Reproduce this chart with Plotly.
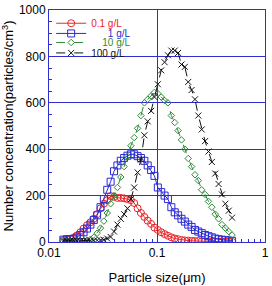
import plotly.graph_objects as go

# particle size channels (nm)
size_nm = [13.6, 14.6, 15.7, 16.9, 18.1, 19.5, 20.9, 22.5, 24.2, 26.0,
           27.9, 30.0, 32.2, 34.6, 37.2, 40.0, 43.0, 46.2, 49.6, 53.3,
           57.3, 61.5, 66.1, 71.0, 76.4, 82.0, 88.2, 94.7, 101.8, 109.4,
           117.6, 126.3, 135.8, 145.9, 156.8, 168.5, 181.1, 194.6, 209.1, 224.7,
           241.4, 259.5, 278.8, 299.6, 322.0, 346.0, 371.8, 399.5, 429.4, 461.4,
           495.8]
size_um = [s / 1000 for s in size_nm]

c_01 = [8, 10, 12, 18, 28, 42, 58, 72, 85, 100,
        120, 145, 165, 180, 198, 195, 190, 190, 188, 185,
        180, 168, 145, 125, 108, 92, 78, 62, 52, 42,
        34, 27, 20, 15, 12, 9, 7, 6, 5, 4,
        4, 3, 3, 3, 2, 2, 2, 2, 2, 1, 1]
c_1 = [10, 12, 12, 14, 20, 30, 42, 58, 75, 95,
       115, 150, 185, 225, 260, 305, 330, 350, 362, 372,
       378, 378, 370, 362, 350, 330, 310, 285, 235, 215,
       200, 185, 150, 128, 115, 100, 88, 75, 65, 52,
       45, 38, 30, 25, 20, 15, 12, 10, 8, 6, 5]
c_10 = [3, 3, 3, 4, 4, 5, 6, 8, 12, 20,
        38, 60, 90, 125, 165, 200, 235, 280, 325, 370,
        415, 450, 490, 545, 600, 615, 630, 645, 640, 625,
        610, 600, 545, 515, 480, 440, 400, 360, 325, 290,
        265, 225, 205, 175, 150, 120, 100, 75, 60, 45, 30]
c_100 = [5, 5, 5, 5, 5, 5, 5, 5, 5, 6,
         7, 8, 10, 15, 22, 45, 75, 100, 120, 145,
         185, 235, 300, 355, 460, 520, 565, 625, 680, 740,
         775, 805, 825, 825, 815, 765, 755, 690, 655, 615,
         545, 485, 435, 390, 345, 295, 250, 205, 165, 135, 105]

names = ["0.1 g/L", "\u2007\u2007\u20071 g/L", "\u2007\u200710 g/L", "100 g/L"]
series = [c_01, c_1, c_10, c_100]
colors = ["#e8262a", "#2a2ad6", "#2e8b3a", "#111111"]
symbols = ["circle-open", "square-open", "diamond-open", "x-thin-open"]
msizes = [7, 7, 5, 6]
dashes = ["solid", "solid", "dash", "dash"]
legend_ids = ["legend", "legend2", "legend3", "legend4"]
legend_y = [0.943, 0.899, 0.860, 0.815]

font_family = "Liberation Sans, Arial, sans-serif"
axis_blue = "#2f2fd0"

fig = go.Figure()
for name, vals, col, sym, ms, dash, lg in zip(names, series, colors, symbols, msizes, dashes, legend_ids):
    fig.add_trace(go.Scatter(
        x=size_um, y=vals, mode="lines+markers",
        name=f"<span style='color:{col}'>{name}</span>",
        line=dict(color=col, width=1, dash=dash),
        marker=dict(symbol=sym, size=ms, color=col, line=dict(color=col, width=1)),
        legend=lg,
    ))

layout_legends = {}
for lg, y in zip(legend_ids, legend_y):
    layout_legends[lg] = dict(
        x=0.01, xanchor="left", y=y, yanchor="middle",
        bgcolor="rgba(0,0,0,0)", borderwidth=0,
        font=dict(family=font_family, size=10, color="black"),
        itemwidth=30, tracegroupgap=0,
    )

fig.update_layout(
    width=272, height=286,
    margin=dict(l=49, r=3, t=10, b=40),
    paper_bgcolor="white", plot_bgcolor="white",
    font=dict(family=font_family, size=12, color="black"),
    showlegend=True,
    **layout_legends,
)

fig.update_xaxes(
    type="log", range=[-2, 0],
    tickvals=[0.01, 0.1, 1], ticktext=["0.01", "0.1", "1"],
    ticks="inside", ticklen=5, tickcolor=axis_blue,
    showline=True, linecolor=axis_blue, linewidth=1, mirror=True,
    showgrid=True, gridcolor=axis_blue, gridwidth=1,
    minor=dict(ticks="inside", ticklen=3, tickcolor=axis_blue, showgrid=False,
               tickvals=[0.02, 0.03, 0.04, 0.05, 0.06, 0.07, 0.08, 0.09,
                         0.2, 0.3, 0.4, 0.5, 0.6, 0.7, 0.8, 0.9]),
    zeroline=False,
    tickfont=dict(size=12),
    title=dict(text="Particle size(\u03bcm)", font=dict(size=13), standoff=13),
)
fig.update_yaxes(
    range=[0, 1000], dtick=200,
    ticks="inside", ticklen=5, tickcolor=axis_blue,
    showline=True, linecolor=axis_blue, linewidth=1, mirror=True,
    showgrid=True, gridcolor=axis_blue, gridwidth=1,
    minor=dict(ticks="inside", ticklen=3, tickcolor=axis_blue, dtick=50, showgrid=False),
    zeroline=False,
    tickfont=dict(size=12),
    title=dict(text="Number concentration(particles/cm<sup>3</sup>)", font=dict(size=13), standoff=3),
)

fig.write_html("out.html")
